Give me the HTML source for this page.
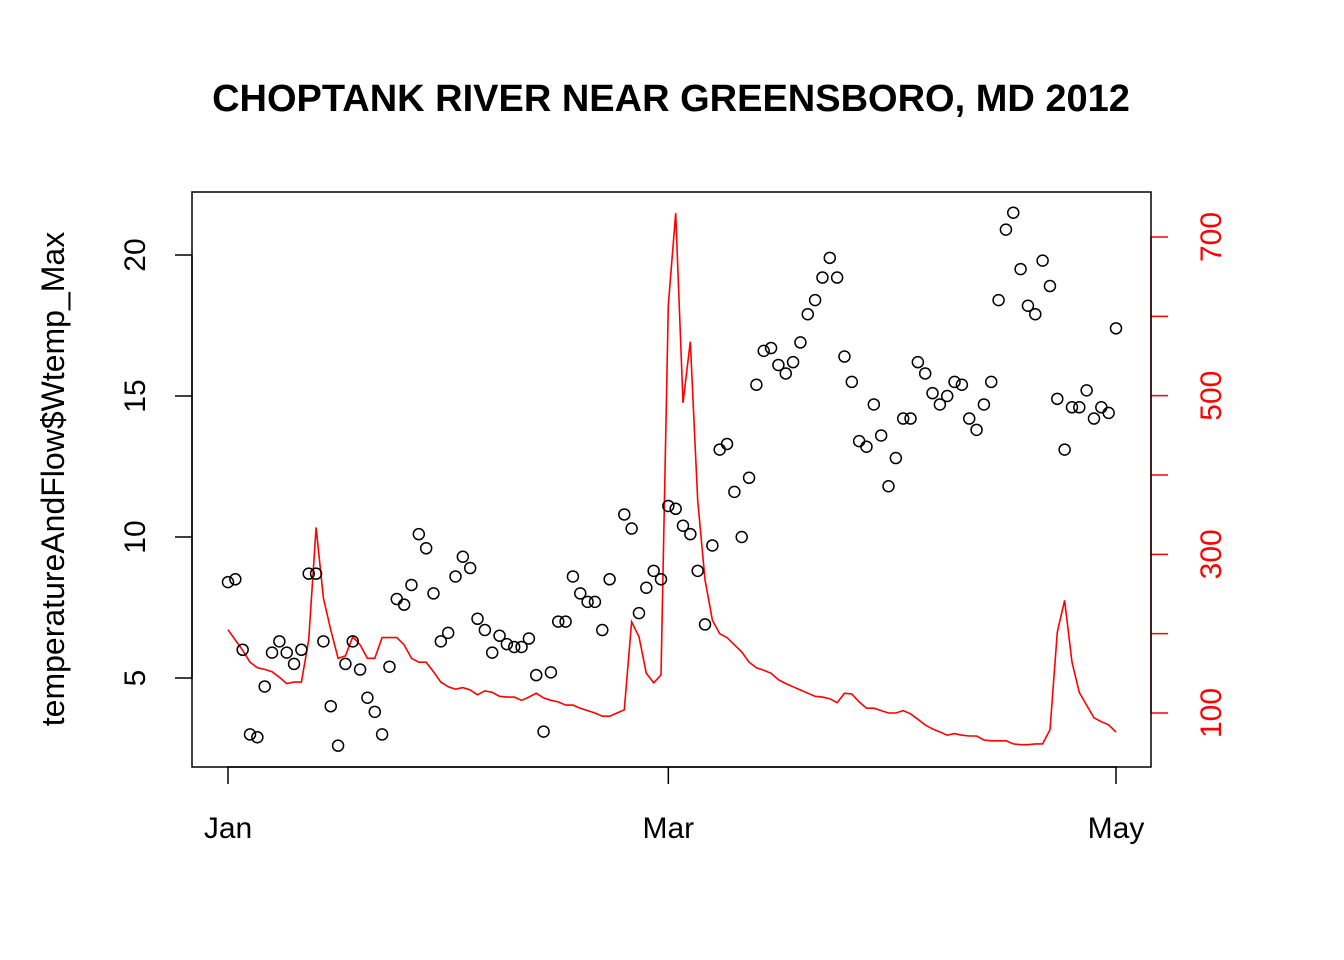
<!DOCTYPE html>
<html><head><meta charset="utf-8"><style>
html,body{margin:0;padding:0;background:#fff;}
svg{display:block;font-family:"Liberation Sans",Arial,sans-serif;}
</style></head><body>
<svg id="chart" width="1344" height="960" viewBox="0 0 1344 960" xmlns="http://www.w3.org/2000/svg">
<rect width="1344" height="960" fill="#fff"/>
<text x="671" y="111" text-anchor="middle" font-size="38" font-weight="bold">CHOPTANK RIVER NEAR GREENSBORO, MD 2012</text>
<text transform="translate(64,479) rotate(-90)" text-anchor="middle" font-size="32">temperatureAndFlow$Wtemp_Max</text>
<g id="flowG"></g>
<g id="tempG"></g>
<g id="axes"></g>
<rect x="192" y="192" width="959" height="575" fill="none" stroke="#000" stroke-width="1.5"/>
</svg>
<script>
const tempValues=[8.4,8.5,6.0,3.0,2.9,4.7,5.9,6.3,5.9,5.5,6.0,8.7,8.7,6.3,4.0,2.6,5.5,6.3,5.3,4.3,3.8,3.0,5.4,7.8,7.6,8.3,10.1,9.6,8.0,6.3,6.6,8.6,9.3,8.9,7.1,6.7,5.9,6.5,6.2,6.1,6.1,6.4,5.1,3.1,5.2,7.0,7.0,8.6,8.0,7.7,7.7,6.7,8.5,null,10.8,10.3,7.3,8.2,8.8,8.5,11.1,11.0,10.4,10.1,8.8,6.9,9.7,13.1,13.3,11.6,10.0,12.1,15.4,16.6,16.7,16.1,15.8,16.2,16.9,17.9,18.4,19.2,19.9,19.2,16.4,15.5,13.4,13.2,14.7,13.6,11.8,12.8,14.2,14.2,16.2,15.8,15.1,14.7,15.0,15.5,15.4,14.2,13.8,14.7,15.5,18.4,20.9,21.5,19.5,18.2,17.9,19.8,18.9,14.9,13.1,14.6,14.6,15.2,14.2,14.6,14.4,17.4];
const flowValues=[205,192,179,164,157,155,152,145,137,139,139,192,334,245,205,169,172,196,186,169,169,195,195,195,186,169,164,164,152,139,133,130,132,129,123,128,126,121,120,120,116,120,125,119,116,114,110,110,106,103,100,96,96,100,104,215,196,150,138,148,614,730,491,568,368,268,217,200,195,186,177,164,157,154,150,142,137,133,129,125,121,120,118,113,125,124,114,106,106,103,100,100,103,99,92,85,80,76,72,74,72,71,71,66,65,65,65,61,60,60,61,61,79,202,242,164,126,110,94,89,85,76];
const monthLabels=["Jan","Mar","May"];
const monthDays=[0,60,121];
const leftTicks=[5,10,15,20];
const rightTicks=[100,200,300,400,500,600,700];
const rightLabels=[100,300,500,700];

const NS="http://www.w3.org/2000/svg";
const xS=d=>228+d*(1116-228)/121;
const yL=v=>678-(v-5)*28.2;
const yR=v=>713-(v-100)*0.7933;
function mk(tag,attrs,parent){const e=document.createElementNS(NS,tag);for(const k in attrs)e.setAttribute(k,attrs[k]);parent.appendChild(e);return e;}
const flowG=document.getElementById('flowG'),tempG=document.getElementById('tempG'),axes=document.getElementById('axes');

const pts=flowValues.map((v,i)=>xS(i).toFixed(1)+","+yR(v).toFixed(1)).join(" ");
const pl=mk('polyline',{points:pts,fill:"none",stroke:"#ff0000","stroke-width":1.6},flowG);



tempValues.forEach((v,i)=>{if(v===null)return;
 const c=mk('circle',{cx:xS(i),cy:yL(v),r:5.5,fill:"none",stroke:"#000","stroke-width":1.5},tempG);
 
 });

const xl=mk('line',{x1:xS(monthDays[0]),x2:xS(monthDays[monthDays.length-1]),y1:767,y2:767,stroke:"#000","stroke-width":1.5},axes);


monthDays.forEach((d,i)=>{
 const t=mk('line',{x1:xS(d),x2:xS(d),y1:767,y2:784,stroke:"#000","stroke-width":1.5},axes);
 
 
 const tx=mk('text',{x:xS(d),y:838,"text-anchor":"middle","font-size":30},axes);tx.textContent=monthLabels[i];
 
 });
const yl=mk('line',{x1:192,x2:192,y1:yL(leftTicks[0]),y2:yL(leftTicks[leftTicks.length-1]),stroke:"#000","stroke-width":1.5},axes);


leftTicks.forEach(v=>{
 const t=mk('line',{x1:175,x2:192,y1:yL(v),y2:yL(v),stroke:"#000","stroke-width":1.5},axes);
 
 
 const tx=mk('text',{transform:`translate(145,${yL(v)}) rotate(-90)`,"text-anchor":"middle","font-size":30},axes);tx.textContent=v;
 
 });
const rl=mk('line',{x1:1151,x2:1151,y1:yR(rightTicks[0]),y2:yR(rightTicks[rightTicks.length-1]),stroke:"#ff0000","stroke-width":1.5},axes);


rightTicks.forEach(v=>{
 const t=mk('line',{x1:1151,x2:1168,y1:yR(v),y2:yR(v),stroke:"#ff0000","stroke-width":1.5},axes);
 
 });
rightLabels.forEach(v=>{
 const tx=mk('text',{transform:`translate(1221,${yR(v)}) rotate(-90)`,"text-anchor":"middle","font-size":30,fill:"#ff0000"},axes);tx.textContent=v;
 
 });
</script>
</body></html>
